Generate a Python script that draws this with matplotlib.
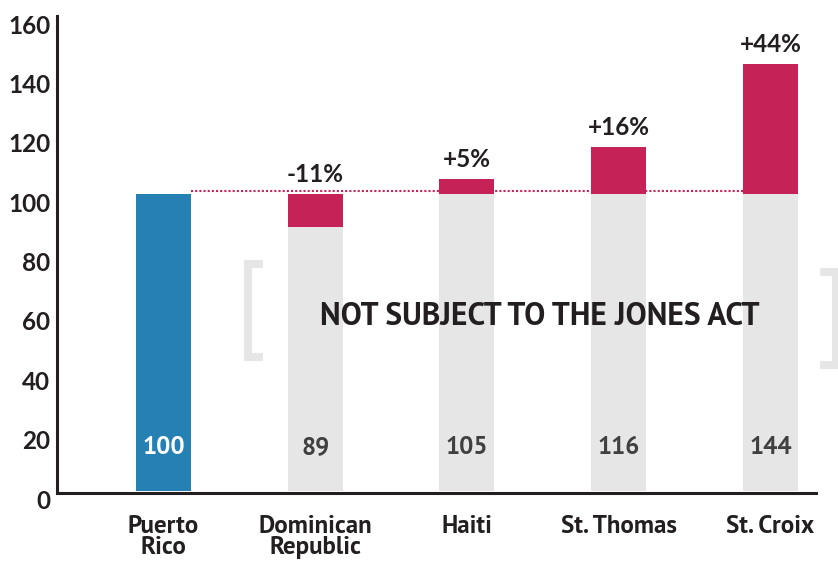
import matplotlib
matplotlib.use("Agg")
import matplotlib.pyplot as plt
from matplotlib.lines import Line2D
from matplotlib.transforms import ScaledTranslation
import numpy as np

# data
countries = ["Puerto\nRico", "Dominican\nRepublic", "Haiti", "St. Thomas", "St. Croix"]
index_values = [100, 89, 105, 116, 144]
change_labels = ["", "-11%", "+5%", "+16%", "+44%"]
baseline = 100
y_ticks = [0, 20, 40, 60, 80, 100, 120, 140, 160]

blue = "#2580b3"
pink = "#c52358"
grey = "#e6e6e6"
dark = "#231f20"
ptsans = ["PT Sans", "DejaVu Sans"]
lato = ["Lato", "DejaVu Sans"]

W, H = 838, 565
fig = plt.figure(figsize=(W / 100, H / 100), dpi=100)
ax = fig.add_axes([57 / W, 72 / H, 759 / W, 477 / H])

x = np.arange(len(countries))
w = 0.363

# Puerto Rico reference bar, others: grey base + pink difference
ax.bar(x[0], index_values[0], w, color=blue, zorder=2)
for i in x[1:]:
    v = index_values[i]
    low = min(v, baseline)
    ax.bar(i, low, w, color=grey, zorder=2)
    ax.bar(i, abs(v - baseline), w, bottom=low, color=pink, zorder=2)

# values inside bars
for i, v in zip(x, index_values):
    ax.text(i, 14.7, str(v), ha="center", va="center", fontsize=18,
            fontweight="bold", family=ptsans,
            color="white" if i == 0 else "#404040", zorder=4)

# percentage change labels
for i, (v, lbl) in enumerate(zip(index_values, change_labels)):
    if not lbl:
        continue
    ax.annotate(lbl, (i, max(v, baseline)), xytext=(0, 8.5),
                textcoords="offset points", ha="center", va="baseline",
                fontsize=17.5, fontweight="bold", family=lato, color=dark)

# dotted reference line
ax.hlines(baseline + 0.9, x[0] + w / 2, x[-1] + w / 2, colors=pink,
          linestyles=(0, (1, 1)), lw=1.5, zorder=3)

ax.text(2.48, 58.7, "NOT SUBJECT TO THE JONES ACT", ha="center", va="center",
        fontsize=22.7, fontweight="bold", family=ptsans, color=dark, zorder=4)


# brackets (pixel positions on the figure)
def px(xs, ys):
    return [a / W for a in xs], [1 - b / H for b in ys]


bx, by = px([263, 248, 248, 263], [264, 264, 357, 357])
fig.add_artist(Line2D(bx, by, transform=fig.transFigure, color=grey, lw=5.8,
                      solid_joinstyle="miter", solid_capstyle="butt"))
bx, by = px([820, 836, 836, 820], [272, 272, 365, 365])
fig.add_artist(Line2D(bx, by, transform=fig.transFigure, color=grey, lw=5.8,
                      solid_joinstyle="miter", solid_capstyle="butt"))

ax.set_xlim(-0.702, 4.301)
ax.set_ylim(-0.67, 158.33)
ax.set_yticks(y_ticks)
ax.set_xticks(x, countries)

for s in ["top", "right"]:
    ax.spines[s].set_visible(False)
for s in ["left", "bottom"]:
    ax.spines[s].set_linewidth(2.2)
    ax.spines[s].set_color(dark)
    ax.spines[s].set_zorder(5)

ax.tick_params(axis="y", length=0, pad=5, labelsize=17.5, labelcolor=dark)
ax.tick_params(axis="x", length=0, pad=16, labelsize=18, labelcolor=dark)
for lbl in ax.get_yticklabels():
    lbl.set_family(lato)
    lbl.set_fontweight("bold")
    lbl.set_transform(lbl.get_transform() + ScaledTranslation(0, -0.08, fig.dpi_scale_trans))
for lbl in ax.get_xticklabels():
    lbl.set_family(ptsans)
    lbl.set_fontweight("bold")
    lbl.set_linespacing(0.9)

fig.savefig("out.png", dpi=100)
